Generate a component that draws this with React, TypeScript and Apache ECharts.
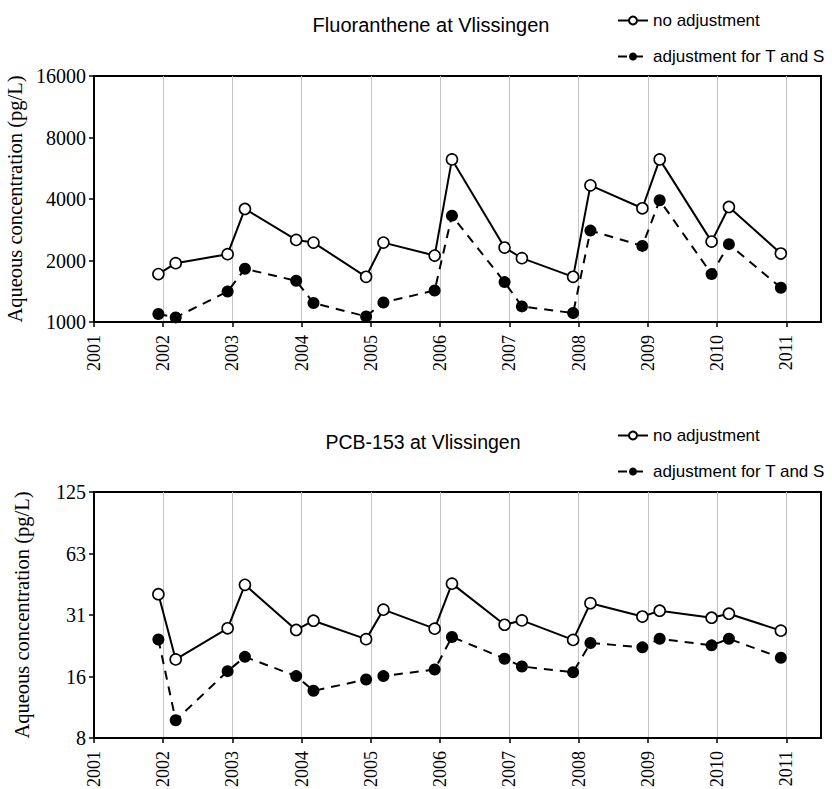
import React, { useEffect, useRef } from "react";
import * as echarts from "echarts";

// Sampling dates (decimal years)
const dates = [
  2001.93, 2002.18, 2002.93, 2003.18, 2003.92, 2004.17, 2004.93, 2005.18, 2005.92, 2006.17,
  2006.93, 2007.18, 2007.92, 2008.17, 2008.92, 2009.17, 2009.92, 2010.17, 2010.92,
];

// Fluoranthene (pg/L)
const fluoNoAdj = [1716, 1941, 2148, 3575, 2523, 2447, 1664, 2447, 2114, 6250, 2314, 2054, 1664, 4666, 3603, 6250, 2475, 3656, 2163];
const fluoAdj = [1094, 1053, 1411, 1821, 1591, 1238, 1065, 1246, 1427, 3315, 1568, 1192, 1106, 2801, 2358, 3942, 1716, 2404, 1471];

// PCB-153 (pg/L)
const pcbNoAdj = [39.5, 18.95, 26.9, 43.9, 26.4, 29.3, 23.8, 33.2, 26.8, 44.5, 28.0, 29.4, 23.6, 35.7, 30.7, 32.8, 30.3, 31.7, 26.2];
const pcbAdj = [23.7, 9.54, 16.6, 19.5, 15.7, 13.3, 15.1, 15.7, 16.9, 24.4, 19.1, 17.5, 16.4, 22.8, 21.7, 23.9, 22.2, 23.9, 19.3];

// Axis definitions (log2 axes: base value and number of doublings)
const fluoBase = 1000;
const pcbBase = 7.8125;
const octaves = 4;
const yearTicks = [2001, 2002, 2003, 2004, 2005, 2006, 2007, 2008, 2009, 2010, 2011];

const titles = ["Fluoranthene at Vlissingen", "PCB-153 at Vlissingen"];
const seriesNames = ["no adjustment", "adjustment for T and S"];
const yName = "Aqueous concentration (pg/L)";

const SERIF = "'Liberation Serif', 'Times New Roman', serif";
const SANS = "'Liberation Sans', Arial, sans-serif";

const toPairs = (vals: number[], base: number) => vals.map((v, i) => [dates[i], Math.log2(v / base)]);

export default function App() {
  const ref = useRef<HTMLDivElement>(null);
  useEffect(() => {
    if (!ref.current) return;
    const chart = echarts.init(ref.current, null, { renderer: "svg" });
    const grids = [
      { left: 94, top: 76, width: 727, height: 246 },
      { left: 94, top: 492, width: 727, height: 246 },
    ];
    const bases = [fluoBase, pcbBase];
    const xAxes = grids.map((_, i) => ({
      type: "value",
      gridIndex: i,
      min: 2001,
      max: 2011.5,
      axisLine: { lineStyle: { color: "#000", width: 2 } },
      axisTick: { show: true, length: 5, customValues: yearTicks, lineStyle: { color: "#000", width: 1.5 } },
      axisLabel: {
        customValues: yearTicks,
        rotate: 90,
        margin: 13,
        fontFamily: SERIF,
        fontSize: 18,
        color: "#000",
        formatter: (v: number) => String(v),
      },
      splitLine: { show: true, lineStyle: { color: "#c4c4c4", width: 1 } },
    }));
    const yAxes = grids.map((_, i) => ({
      type: "value",
      gridIndex: i,
      min: 0,
      max: octaves,
      interval: 1,
      name: yName,
      nameLocation: "middle",
      nameGap: 62,
      nameTextStyle: { fontFamily: SERIF, fontSize: 20.5, color: "#000" },
      axisLine: { show: true, lineStyle: { color: "#000", width: 2 } },
      axisTick: { show: true, length: 5, lineStyle: { color: "#000", width: 1.5 } },
      axisLabel: {
        margin: 8,
        fontFamily: SERIF,
        fontSize: 20,
        color: "#000",
        formatter: (v: number) => String(Math.round(bases[i] * Math.pow(2, v))),
      },
      splitLine: { show: false },
    }));
    const mk = (name: string, vals: number[], base: number, idx: number, filled: boolean) => ({
      type: "line",
      name,
      xAxisIndex: idx,
      yAxisIndex: idx,
      data: toPairs(vals, base),
      symbol: "circle",
      symbolSize: filled ? 12 : 11,
      lineStyle: filled
        ? { color: "#000", width: 2, type: [9, 7] }
        : { color: "#000", width: 2, type: "solid" },
      itemStyle: filled
        ? { color: "#000", borderColor: "#000", borderWidth: 0 }
        : { color: "#fff", borderColor: "#000", borderWidth: 1.6 },
      z: filled ? 2 : 3,
    });
    const titlePos = [
      { left: 431, top: 15, size: 20 },
      { left: 423, top: 432, size: 19.5 },
    ];
    const option = {
      animation: false,
      backgroundColor: "#fff",
      title: titles.map((t, i) => ({
        text: t,
        left: titlePos[i].left,
        textAlign: "center",
        top: titlePos[i].top,
        padding: 0,
        textStyle: { fontFamily: SANS, fontSize: titlePos[i].size, fontWeight: "normal", color: "#000" },
      })),
      legend: [12, 427].map((top) => ({
        data: seriesNames,
        orient: "vertical",
        left: 617,
        top,
        padding: 0,
        itemWidth: 30,
        itemHeight: 10,
        itemGap: 19,
        selectedMode: false,
        textStyle: { fontFamily: SANS, fontSize: 17, color: "#000" },
      })),
      grid: grids.map((g) => ({
        ...g,
        containLabel: false,
        outerBoundsMode: "none",
        show: true,
        borderColor: "#000",
        borderWidth: 2,
        backgroundColor: "transparent",
      })),
      xAxis: xAxes,
      yAxis: yAxes,
      series: [
        mk(seriesNames[0], fluoNoAdj, fluoBase, 0, false),
        mk(seriesNames[1], fluoAdj, fluoBase, 0, true),
        mk(seriesNames[0], pcbNoAdj, pcbBase, 1, false),
        mk(seriesNames[1], pcbAdj, pcbBase, 1, true),
      ],
    };
    chart.setOption(option as any);
    return () => chart.dispose();
  }, []);
  return (
    <div
      ref={ref}
      style={{ position: "fixed", left: 0, top: 0, width: 832, height: 789, background: "#fff" }}
    />
  );
}
